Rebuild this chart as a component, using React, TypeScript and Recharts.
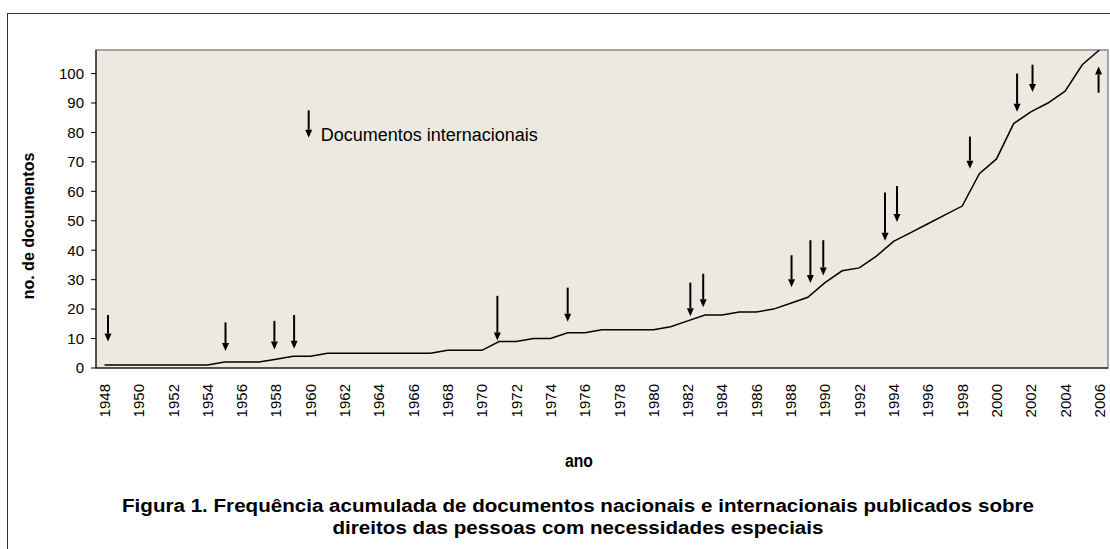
import { ComposedChart, Line, XAxis, YAxis, ReferenceLine, ReferenceArea } from "recharts";

const years = [
  1948, 1949, 1950, 1951, 1952, 1953, 1954, 1955, 1956, 1957, 1958, 1959, 1960, 1961, 1962,
  1963, 1964, 1965, 1966, 1967, 1968, 1969, 1970, 1971, 1972, 1973, 1974, 1975, 1976, 1977,
  1978, 1979, 1980, 1981, 1982, 1983, 1984, 1985, 1986, 1987, 1988, 1989, 1990, 1991, 1992,
  1993, 1994, 1995, 1996, 1997, 1998, 1999, 2000, 2001, 2002, 2003, 2004, 2005, 2006,
];

// cumulative number of documents
const totals = [
  1, 1, 1, 1, 1, 1, 1, 2, 2, 2, 3, 4, 4, 5, 5,
  5, 5, 5, 5, 5, 6, 6, 6, 9, 9, 10, 10, 12, 12, 13,
  13, 13, 13, 14, 16, 18, 18, 19, 19, 20, 22, 24, 29, 33, 34,
  38, 43, 46, 49, 52, 55, 66, 71, 83, 87, 90, 94, 103, 108,
];

const yearLabels = [
  1948, 1950, 1952, 1954, 1956, 1958, 1960, 1962, 1964, 1966, 1968, 1970, 1972, 1974, 1976,
  1978, 1980, 1982, 1984, 1986, 1988, 1990, 1992, 1994, 1996, 1998, 2000, 2002, 2004, 2006,
];
const yTicks = [0, 10, 20, 30, 40, 50, 60, 70, 80, 90, 100];

// international documents: arrow position (year) and start / tip values
const arrowYears = [
  1948.2, 1955.05, 1957.9, 1959.05, 1970.9, 1975.0, 1982.15, 1982.9, 1988.05,
  1989.15, 1989.9, 1993.5, 1994.2, 1998.45, 2001.2, 2002.1, 2005.95,
];
const arrowFrom = [18, 15.5, 16, 18, 24.5, 27.3, 29, 32, 38.3, 43.4, 43.4, 59.6, 61.8, 78.6, 100, 103, 93.5];
const arrowTo = [9, 5.8, 6.3, 6.5, 9.3, 15.7, 17.6, 20.6, 27.4, 28.9, 31.4, 43.2, 49.6, 67.7, 87, 93.7, 102.4];

const legendYear = 1959.9;
const legendFrom = 87.5;
const legendTo = 78.2;
const legendText = "Documentos internacionais";

const data = years.map((year, i) => ({ year, total: totals[i] }));
const boundaries = [...years.map((y) => y - 0.5), years[years.length - 1] + 0.5];
const xDomain = [boundaries[0], boundaries[boundaries.length - 1]];

const FONT = "'Liberation Sans', Arial, sans-serif";

function arrowPath(p: any) {
  const { x1, y1, x2, y2 } = p;
  const dir = y2 > y1 ? 1 : -1;
  const head = 8;
  return (
    <g>
      <line x1={x1} y1={y1} x2={x2} y2={y2 - dir * head} stroke="#000" strokeWidth={2} />
      <polygon
        points={`${x2 - 3.5},${y2 - dir * head} ${x2 + 3.5},${y2 - dir * head} ${x2},${y2}`}
        fill="#000"
      />
    </g>
  );
}

function legendShape(p: any) {
  return (
    <g>
      {arrowPath(p)}
      <text x={p.x1 + 12} y={p.y2 + 3} fontSize={18} fill="#000" fontFamily={FONT}>
        {legendText}
      </text>
    </g>
  );
}

const YearTick = ({ x, y, payload }: any) => (
  <text
    x={x}
    y={y}
    transform={`rotate(-90, ${x}, ${y})`}
    textAnchor="end"
    dy="0.36em"
    fontSize={15}
    fill="#000"
    fontFamily={FONT}
  >
    {payload.value}
  </text>
);

export default function App() {
  return (
    <div
      style={{
        position: "absolute",
        left: 0,
        top: 0,
        width: 1110,
        height: 549,
        overflow: "hidden",
        fontFamily: FONT,
        background: "#fff",
      }}
    >
      <svg width={1110} height={549} style={{ position: "absolute", left: 0, top: 0 }}>
        <rect x={7.5} y={13.5} width={1130} height={560} fill="none" stroke="#333" strokeWidth={1} />
      </svg>
      <div style={{ position: "absolute", left: 0, top: 0 }}>
        <ComposedChart width={1110} height={549} data={data} margin={{ top: 50, right: 2, left: 36, bottom: 125 }}>
          <ReferenceArea
            x1={xDomain[0]}
            x2={xDomain[1]}
            y1={0}
            y2={108}
            fill="#ECE9E0"
            fillOpacity={1}
            stroke="#8a8a8a"
            strokeWidth={1.5}
          />
          <XAxis
            dataKey="year"
            type="number"
            domain={xDomain}
            ticks={boundaries}
            interval={0}
            tick={false}
            tickSize={6}
            height={6}
            stroke="#000"
            allowDataOverflow
          />
          <XAxis
            xAxisId="lbl"
            dataKey="year"
            type="number"
            domain={xDomain}
            ticks={yearLabels}
            interval={0}
            tick={<YearTick />}
            tickLine={false}
            axisLine={false}
            tickSize={0}
            tickMargin={10}
            height={50}
            allowDataOverflow
          />
          <YAxis
            domain={[0, 108]}
            ticks={yTicks}
            interval={0}
            width={60}
            tickSize={5}
            tickMargin={7}
            stroke="#000"
            tick={{ fontSize: 15, fill: "#000" }}
            allowDataOverflow
          />
          <Line
            type="linear"
            dataKey="total"
            stroke="#000"
            strokeWidth={1.5}
            dot={false}
            activeDot={false}
            isAnimationActive={false}
          />
          {arrowYears.map((yr, i) => (
            <ReferenceLine
              key={i}
              segment={[
                { x: yr, y: arrowFrom[i] },
                { x: yr, y: arrowTo[i] },
              ]}
              shape={arrowPath}
              ifOverflow="visible"
            />
          ))}
          <ReferenceLine
            segment={[
              { x: legendYear, y: legendFrom },
              { x: legendYear, y: legendTo },
            ]}
            shape={legendShape}
            ifOverflow="visible"
          />
        </ComposedChart>
      </div>
      <svg width={1110} height={549} style={{ position: "absolute", left: 0, top: 0, pointerEvents: "none" }}>
        <text transform="rotate(-90)" x={-226} y={34} textAnchor="middle" fontSize={16} fontWeight="bold" fill="#000" fontFamily={FONT}>
          no. de documentos
        </text>
        <text x={579} y={467} textAnchor="middle" fontSize={18} fontWeight="bold" fill="#000" fontFamily={FONT} textLength={28} lengthAdjust="spacingAndGlyphs">
          ano
        </text>
        <text x={578} y={512} textAnchor="middle" fontSize={18} fontWeight="bold" fill="#000" fontFamily={FONT} textLength={912} lengthAdjust="spacingAndGlyphs">
          Figura 1. Frequência acumulada de documentos nacionais e internacionais publicados sobre
        </text>
        <text x={578} y={534} textAnchor="middle" fontSize={18} fontWeight="bold" fill="#000" fontFamily={FONT} textLength={491} lengthAdjust="spacingAndGlyphs">
          direitos das pessoas com necessidades especiais
        </text>
      </svg>
    </div>
  );
}
